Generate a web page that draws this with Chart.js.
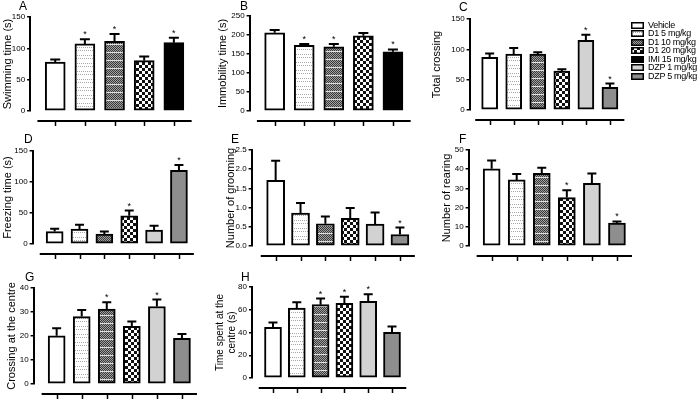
<!DOCTYPE html>
<html><head><meta charset="utf-8">
<script src="https://cdn.jsdelivr.net/npm/chart.js@4.4.0/dist/chart.umd.min.js"></script>
<style>
html,body{margin:0;padding:0;background:#fff;}
#wrap{position:relative;width:700px;height:400px;overflow:hidden;font-family:"Liberation Sans",Arial,sans-serif;color:#000;}
#wrap canvas.p{position:absolute;}
.letter{position:absolute;font-size:12px;line-height:12px;}
.leg{position:absolute;left:631px;height:9px;font-size:9px;line-height:9px;letter-spacing:-0.3px;white-space:nowrap;}
.leg canvas{position:absolute;left:0;top:1px;}
.leg span{position:absolute;left:17px;top:0;}
</style></head><body><div id="wrap"></div>
<script>
// ---- data ----
const fstGroups = ['Vehicle','D1 5 mg/kg','D1 10 mg/kg','D1 20 mg/kg','IMI 15 mg/kg'];
const ofGroups = ['Vehicle','D1 5 mg/kg','D1 10 mg/kg','D1 20 mg/kg','DZP 1 mg/kg','DZP 5 mg/kg'];
const legendGroups = ['Vehicle','D1 5 mg/kg','D1 10 mg/kg','D1 20 mg/kg','IMI 15 mg/kg','DZP 1 mg/kg','DZP 5 mg/kg'];

const swimMean = [78, 107, 111, 80.5, 109];
const swimSem = [4, 7.5, 12, 6.5, 8];
const swimSig = [false, true, true, false, true];
const swimTicks = [0, 50, 100, 150];

const immobMean = [206, 173, 169, 198, 156];
const immobSem = [7, 3, 7, 7, 6];
const immobSig = [false, true, true, false, true];
const immobTicks = [0, 50, 100, 150, 200, 250];

const crossMean = [87, 92, 92, 64, 115, 37.5];
const crossSem = [6, 10, 3, 3, 9, 6];
const crossSig = [false, false, false, false, true, true];
const crossTicks = [0, 50, 100, 150];

const freezeMean = [20, 24, 16, 45.5, 22.5, 119];
const freezeSem = [4.5, 7, 4, 8.5, 7, 8.5];
const freezeSig = [false, false, false, true, false, true];
const freezeTicks = [0, 50, 100, 150];

const groomMean = [1.71, 0.86, 0.58, 0.72, 0.57, 0.30];
const groomSem = [0.51, 0.26, 0.19, 0.27, 0.30, 0.18];
const groomSig = [false, false, false, false, false, true];
const groomTicks = [0, 0.5, 1.0, 1.5, 2.0, 2.5];

const rearMean = [40.2, 34.4, 37.8, 25.2, 32.6, 12];
const rearSem = [4.3, 3.1, 3, 3.8, 5.2, 0.8];
const rearSig = [false, false, false, true, false, true];
const rearTicks = [0, 10, 20, 30, 40, 50];

const centreCrossMean = [20.1, 28.1, 31.2, 24, 32.3, 19];
const centreCrossSem = [3.1, 2.7, 2.9, 2, 2.9, 1.8];
const centreCrossSig = [false, false, true, false, true, false];
const centreCrossTicks = [0, 10, 20, 30, 40];

const centreTimeMean = [44.6, 61.5, 64.5, 65.6, 67.4, 40.2];
const centreTimeSem = [4.1, 5, 5.3, 5.9, 6.2, 5];
const centreTimeSig = [false, false, true, true, true, false];
const centreTimeTicks = [0, 20, 40, 60, 80];

// ---- styles ----
const FONT = '"Liberation Sans", Arial, sans-serif';
function pat(w, h, draw) {
  const c = document.createElement('canvas'); c.width = w; c.height = h;
  const g = c.getContext('2d'); draw(g);
  return g.createPattern(c, 'repeat');
}
const fills = {
  'Vehicle': '#ffffff',
  'D1 5 mg/kg': pat(6, 8, g => { g.fillStyle = '#fff'; g.fillRect(0,0,6,8); g.fillStyle = '#a8a8a8';
      for (let x = 0; x < 6; x += 2) { g.fillRect(x, 2, 1, 1); g.fillRect(x + 1, 5, 1, 1); } }),
  'D1 10 mg/kg': pat(4, 8, g => { g.fillStyle = '#a0a0a0'; g.fillRect(0,0,4,8); g.fillStyle = '#3a3a3a';
      for (let y = 0; y < 8; y++) for (let x = 0; x < 4; x++) if ((x + y) % 2 === 0) g.fillRect(x, y, 1, 1);
      g.fillStyle = '#e0e0e0'; g.fillRect(0, 7, 4, 1); }),
  'D1 20 mg/kg': pat(6, 6, g => { g.fillStyle = '#fff'; g.fillRect(0,0,6,6); g.fillStyle = '#111';
      g.fillRect(0,0,3,3); g.fillRect(3,3,3,3); }),
  'IMI 15 mg/kg': '#000000',
  'DZP 1 mg/kg': '#d2d2d2',
  'DZP 5 mg/kg': '#8e8e8e'
};

const wrap = document.getElementById('wrap');

const errPlugin = {
  id: 'prism',
  afterDatasetsDraw(chart) {
    const p = chart.options.plugins.prism;
    const ctx = chart.ctx, ys = chart.scales.y, xs = chart.scales.x;
    const meta = chart.getDatasetMeta(0);
    ctx.save();
    ctx.strokeStyle = '#000'; ctx.fillStyle = '#000'; ctx.lineWidth = 2;
    meta.data.forEach((el, i) => {
      const yt = ys.getPixelForValue(p.means[i] + p.sem[i]);
      const half = p.cap / 2;
      ctx.beginPath();
      ctx.moveTo(el.x, el.y); ctx.lineTo(el.x, yt);
      ctx.moveTo(el.x - half, yt); ctx.lineTo(el.x + half, yt);
      ctx.stroke();
      if (p.sig[i]) {
        ctx.font = '9px ' + FONT; ctx.textAlign = 'center'; ctx.textBaseline = 'alphabetic';
        ctx.fillText('*', el.x, yt - 2);
      }
    });
    // detached category axis
    const n = p.means.length;
    const yl = chart.chartArea.bottom + 10;
    ctx.lineWidth = 2;
    ctx.beginPath();
    ctx.moveTo(xs.getPixelForValue(-0.6), yl); ctx.lineTo(xs.getPixelForValue(n - 1 + 0.6), yl);
    ctx.stroke();
    ctx.lineWidth = 1.5;
    for (let i = 0; i < n; i++) {
      const x = Math.round(xs.getPixelForValue(i)) + 0.5;
      ctx.beginPath(); ctx.moveTo(x, yl); ctx.lineTo(x, yl + 5); ctx.stroke();
    }
    ctx.restore();
  }
};

function makePanel(c) {
  const fs = c.fs || 11, lh = fs * 1.2;
  const padTop = 12, padBottom = 22, padRight = 6, plotW = 172;
  const left = c.tx - lh / 2;
  const yw = c.ax - left;
  const W = Math.ceil(yw + plotW + padRight);
  const H = Math.ceil(padTop + (c.bottom - c.top) + padBottom);
  const cv = document.createElement('canvas');
  cv.className = 'p';
  cv.width = W; cv.height = H;
  cv.style.width = W + 'px'; cv.style.height = H + 'px';
  cv.style.left = left + 'px'; cv.style.top = (c.top - padTop) + 'px';
  wrap.appendChild(cv);
  const xmin = -(c.first - c.ax) / c.sp;
  const xmax = xmin + plotW / c.sp;
  new Chart(cv, {
    type: 'bar',
    data: { datasets: [{
      data: c.means.map((v, i) => ({ x: i, y: v })),
      backgroundColor: c.groups.map(g => fills[g]),
      borderColor: '#000', borderWidth: 2, borderSkipped: false,
      barThickness: c.bw
    }] },
    options: {
      responsive: false, animation: false, devicePixelRatio: 1,
      layout: { padding: { top: padTop, bottom: padBottom, left: 0, right: padRight } },
      plugins: { legend: { display: false }, tooltip: { enabled: false },
        prism: { means: c.means, sem: c.sem, sig: c.sig, cap: c.cap || 10 } },
      scales: {
        x: { type: 'linear', display: false, min: xmin, max: xmax, offset: false, bounds: 'data', grace: 0,
             grid: { offset: false } },
        y: {
          min: 0, max: c.ticks[c.ticks.length - 1],
          afterFit(s) { s.width = yw; },
          afterBuildTicks(s) { s.ticks = c.ticks.map(v => ({ value: v })); },
          ticks: { font: { size: 8, family: FONT }, color: '#000', padding: 2,
            callback: v => c.dec ? Number(v).toFixed(1) : String(v) },
          grid: { display: true, drawOnChartArea: false, drawTicks: true, tickLength: 3, color: '#000', lineWidth: 1.5 },
          border: { display: true, color: '#000', width: 2 },
          title: { display: true, text: c.title, font: { size: fs, family: FONT }, color: '#000', padding: 0 }
        }
      }
    },
    plugins: [errPlugin]
  });
}

const panels = [
  { groups: fstGroups, means: swimMean, sem: swimSem, sig: swimSig, ticks: swimTicks, title: 'Swimming time (s)',
    ax: 30, top: 17, bottom: 111, first: 55, sp: 29.5, bw: 20, tx: 7.5 },
  { groups: fstGroups, means: immobMean, sem: immobSem, sig: immobSig, ticks: immobTicks, title: 'Immobility time (s)',
    ax: 250, top: 16, bottom: 111, first: 275, sp: 29.5, bw: 20, tx: 223 },
  { groups: ofGroups, means: crossMean, sem: crossSem, sig: crossSig, ticks: crossTicks, title: 'Total crossing',
    ax: 470, top: 19, bottom: 110, first: 490, sp: 24, bw: 16, tx: 437, cap: 9 },
  { groups: ofGroups, means: freezeMean, sem: freezeSem, sig: freezeSig, ticks: freezeTicks, title: 'Freezing time (s)',
    ax: 33, top: 151, bottom: 244, first: 55, sp: 24.8, bw: 17, tx: 8, cap: 9 },
  { groups: ofGroups, means: groomMean, sem: groomSem, sig: groomSig, ticks: groomTicks, title: 'Number of grooming', dec: true,
    ax: 252, top: 150, bottom: 246, first: 276, sp: 24.8, bw: 18, tx: 231, cap: 9 },
  { groups: ofGroups, means: rearMean, sem: rearSem, sig: rearSig, ticks: rearTicks, title: 'Number of rearing',
    ax: 469, top: 150, bottom: 246, first: 492, sp: 25, bw: 17, tx: 447, cap: 9 },
  { groups: ofGroups, means: centreCrossMean, sem: centreCrossSem, sig: centreCrossSig, ticks: centreCrossTicks, title: 'Crossing at the centre',
    ax: 34, top: 288, bottom: 384, first: 57, sp: 25, bw: 17, tx: 12, cap: 9 },
  { groups: ofGroups, means: centreTimeMean, sem: centreTimeSem, sig: centreTimeSig, ticks: centreTimeTicks, title: ['Time spent at the', 'centre (s)'],
    ax: 252, top: 287, bottom: 378, first: 273, sp: 23.8, bw: 17, tx: 220, fs: 10, cap: 9 }
];
panels.forEach(makePanel);

// panel letters
[['A', 19, 0], ['B', 240, 0], ['C', 459, 1], ['D', 24, 133], ['E', 231, 133], ['F', 459, 133], ['G', 25, 271], ['H', 241, 271]]
  .forEach(([t, x, y]) => { const d = document.createElement('div'); d.className = 'letter';
    d.style.left = x + 'px'; d.style.top = y + 'px'; d.textContent = t; wrap.appendChild(d); });

// legend
legendGroups.forEach((g, i) => {
  const row = document.createElement('div'); row.className = 'leg';
  row.style.top = (21 + 8.45 * i) + 'px';
  const sw = document.createElement('canvas'); sw.width = 13; sw.height = 7;
  const sc = sw.getContext('2d'); sc.fillStyle = fills[g]; sc.fillRect(0, 0, 13, 7);
  sc.strokeStyle = '#000'; sc.lineWidth = 1.5; sc.strokeRect(0.75, 0.75, 11.5, 5.5);
  const sp = document.createElement('span'); sp.textContent = g;
  row.appendChild(sw); row.appendChild(sp); wrap.appendChild(row);
});
</script></body></html>
